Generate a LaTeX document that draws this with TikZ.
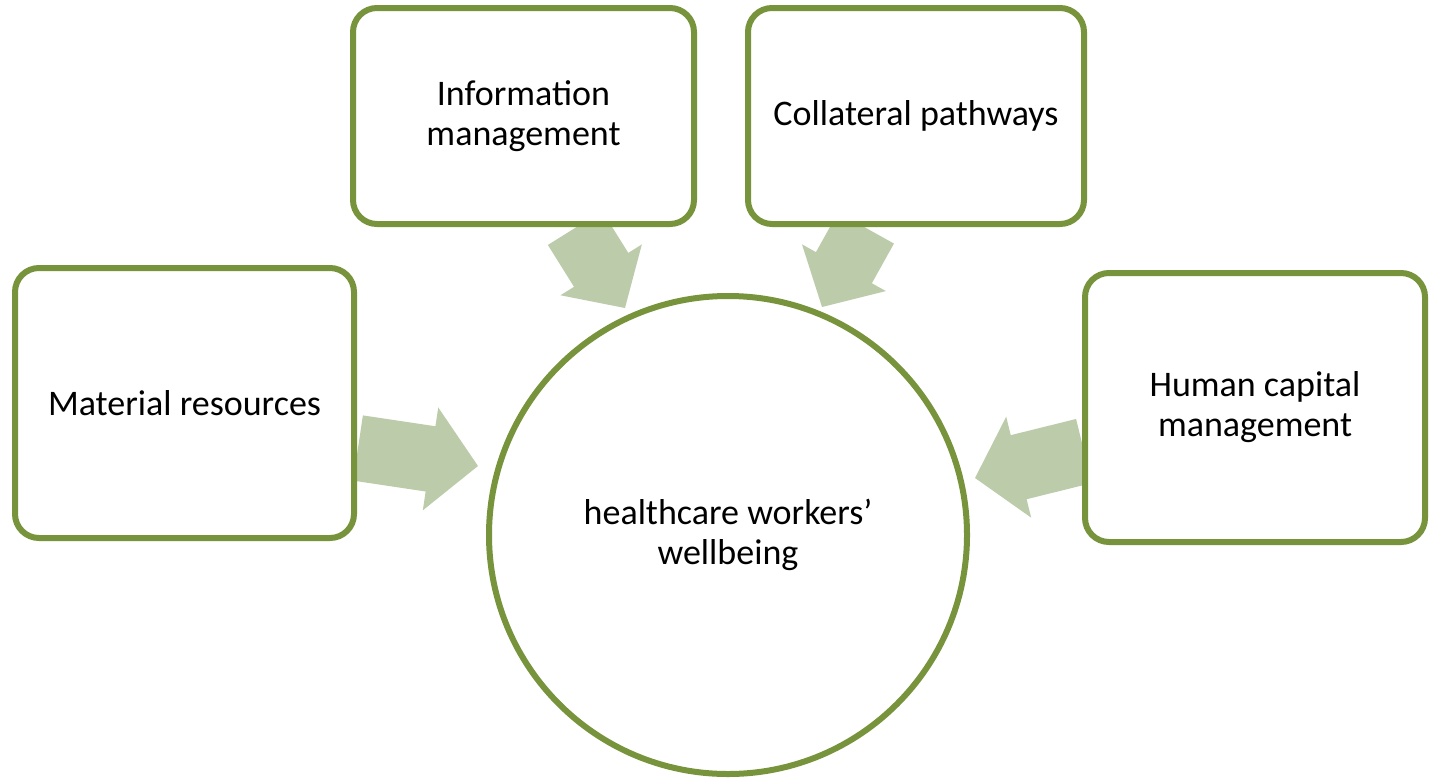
\documentclass[tikz,border=0pt]{standalone}
\usepackage{fontspec}
\setmainfont{Carlito}
\usetikzlibrary{calc}
\definecolor{gr}{HTML}{77933C}
\definecolor{ar}{HTML}{BCCCAA}
\tikzset{box/.style={draw=gr,line width=6pt,rounded corners=24pt,fill=white,align=center,font=\fontsize{36}{40}\selectfont},
fat/.style={fill=ar,draw=none}}
\newcommand\fatarrow[5]{% start, tip, halfbody, halfhead, headlen
\fill[fat] ($(#1)!#3!90:(#2)$) -- ($($(#2)!#5!(#1)$)!#3!-90:(#1)$) -- ($($(#2)!#5!(#1)$)!#4!-90:(#1)$) -- (#2) -- ($($(#2)!#5!(#1)$)!#4!90:(#1)$) -- ($($(#2)!#5!(#1)$)!#3!90:(#1)$) -- ($(#1)!#3!-90:(#2)$) -- cycle;}
\begin{document}
\begin{tikzpicture}[x=1pt,y=-1pt]
\useasboundingbox (0,0) rectangle (1442,779);
\coordinate (a1) at (358,448); \coordinate (t1) at (478,466);
\coordinate (a2) at (1084,451); \coordinate (t2) at (975,478);
\coordinate (a3) at (575,228); \coordinate (t3) at (625,308);
\coordinate (a4) at (866,228); \coordinate (t4) at (822,307);
\fatarrow{a1}{t1}{33pt}{52pt}{48pt}
\fatarrow{a2}{t2}{33pt}{52pt}{45pt}
\fatarrow{a3}{t3}{32pt}{48pt}{45pt}
\fatarrow{a4}{t4}{32pt}{48pt}{45pt}
\node[box,minimum width=341pt,minimum height=216pt] (info) at (523.5,116) {Information\\management};
\node[box,minimum width=336pt,minimum height=216pt] (coll) at (916,116) {Collateral pathways};
\node[box,minimum width=339pt,minimum height=270pt] (mat) at (184.5,403) {Material resources};
\node[box,minimum width=340pt,minimum height=269pt] (hum) at (1255,407.5) {Human capital\\management};
\node[draw=gr,line width=6pt,circle,minimum size=478pt,align=center,font=\fontsize{36}{40}\selectfont] (c) at (728,535) {healthcare workers\char39\\wellbeing};
\end{tikzpicture}
\end{document}
